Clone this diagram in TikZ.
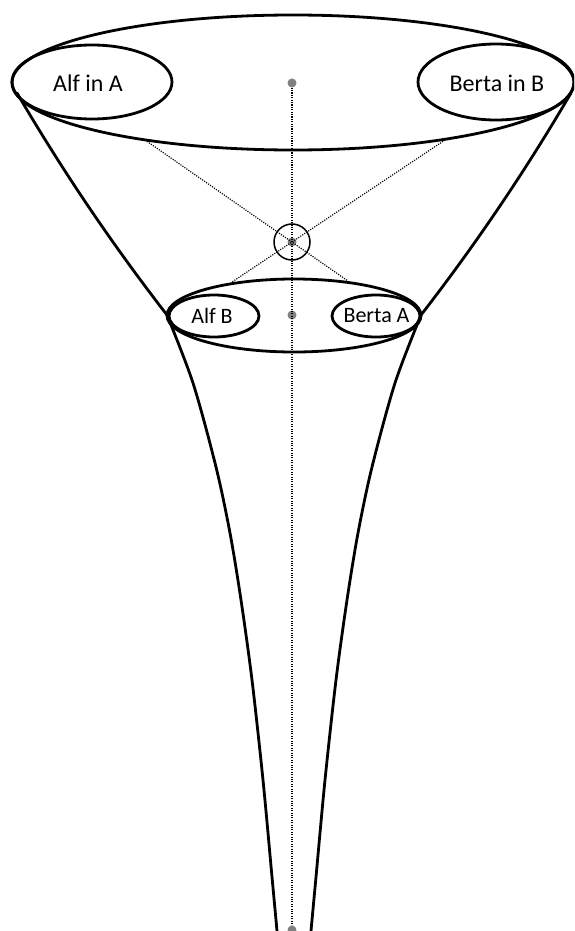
\documentclass[tikz,border=0pt]{standalone}
\usepackage{fontspec}
\setmainfont{Carlito}
\usetikzlibrary{shapes.geometric}
\definecolor{dotgray}{RGB}{128,128,128}
\tikzset{
  thickline/.style={line width=2.8pt, line join=round, line cap=round},
  oval/.style={ellipse, draw, line width=2.8pt, inner sep=0pt},
  biglabel/.style={font=\fontsize{24}{28}\selectfont},
  smalllabel/.style={font=\fontsize{22}{26}\selectfont},
  gdot/.style={circle, fill=dotgray, inner sep=0pt, minimum size=9pt},
  dotline/.style={line width=1.2pt, dash pattern=on 1.1pt off 1.3pt},
}
\begin{document}
\begin{tikzpicture}[x=1pt,y=-1pt]
\useasboundingbox (0,0) rectangle (574,931);
\clip (0,0) rectangle (574,931);
% funnel sides
\draw[thickline] (17,93) .. controls (62,170) and (112,244) .. (167,315)
  -- plot[smooth] coordinates {(167,315) (193,383) (216,467) (230,533) (241,600) (252,680) (263,780) (272,877) (277,931) (278,945)};
\draw[thickline] (571,93) .. controls (526,170) and (476,244) .. (421,315)
  -- plot[smooth] coordinates {(421,315) (395,383) (372,467) (358,533) (347,600) (336,680) (325,780) (316,877) (311,931) (310,945)};
% big top ellipse
\node[oval, minimum width=562pt, minimum height=135pt] (top) at (293,82.5) {};
\node[oval, minimum width=160pt, minimum height=74pt] (alfA) at (92,82) {};
\node[oval, minimum width=156pt, minimum height=76pt] (bertaB) at (496,82) {};
\node[biglabel] (alfAtext) at (88,83) {Alf in A};
\node[biglabel] (bertaBtext) at (497,83) {Berta in B};
% lower ellipse
\node[oval, minimum width=254pt, minimum height=73pt] (low) at (294,315.5) {};
\node[oval, minimum width=90pt, minimum height=42pt] (alfB) at (214,316) {};
\node[oval, minimum width=88pt, minimum height=42pt] (bertaA) at (376,316) {};
\node[smalllabel] (alfBtext) at (212,316) {Alf B};
\node[smalllabel] (bertaAtext) at (376.5,316) {Berta A};
% small circle
\node[circle, draw, line width=1.5pt, minimum size=36pt, inner sep=0pt] (ring) at (292,242) {};
% dots
\node[gdot] (d1) at (292,83) {};
\node[gdot] (d2) at (292,242) {};
\node[gdot] (d3) at (292,315) {};
\node[gdot] (d4) at (292,930) {};
% dotted lines
\coordinate (p1) at (145,140);
\coordinate (q1) at (348,281);
\coordinate (p2) at (445,140);
\coordinate (q2) at (232,282);
\draw[dotline] (d1) -- (d4);
\draw[dotline] (p1) -- (q1);
\draw[dotline] (p2) -- (q2);
\end{tikzpicture}
\end{document}
